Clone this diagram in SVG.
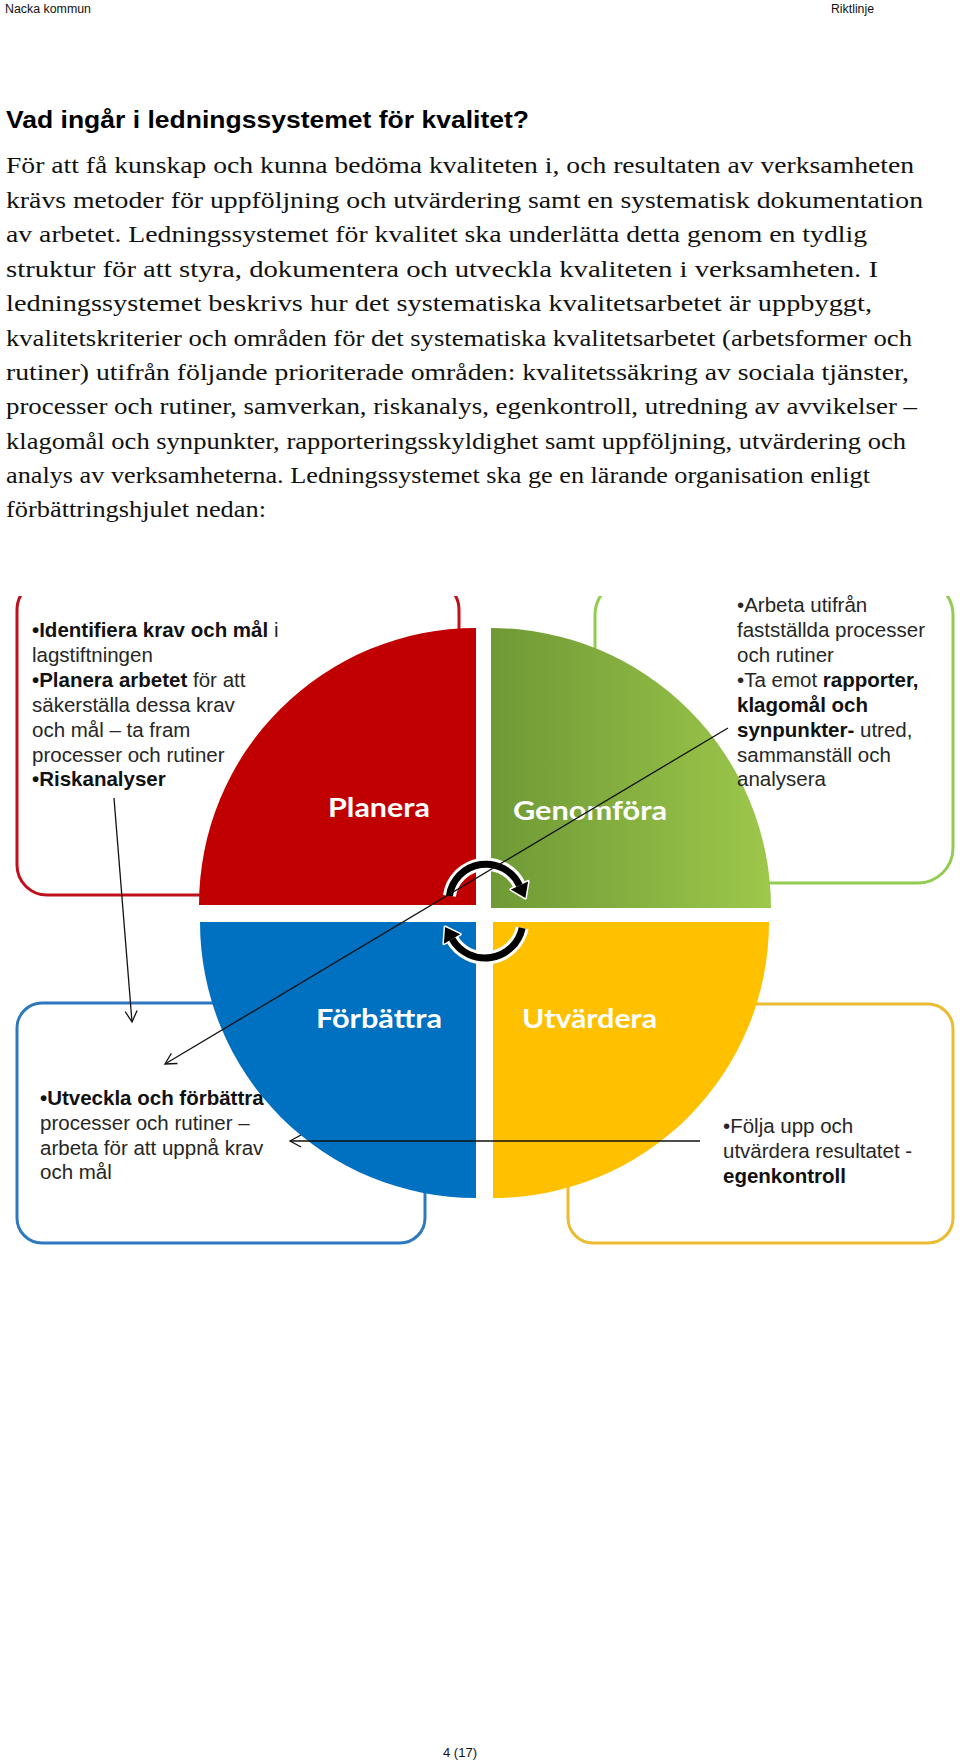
<svg xmlns="http://www.w3.org/2000/svg" width="960" height="1764" viewBox="0 0 960 1764">
<defs>
<style>
.hdr{font-family:"Liberation Sans",Arial,sans-serif;font-size:12.5px;fill:#111}
.h1{font-family:"Liberation Sans",Arial,sans-serif;font-size:24px;font-weight:bold;fill:#000}
.body{font-family:"Liberation Serif","Times New Roman",serif;font-size:24px;fill:#111}
.bt{font-family:"Liberation Sans",Arial,sans-serif;font-size:20.5px;fill:#262626}
.b{font-weight:bold;fill:#111}
.ql{font-family:Lato,"Open Sans",sans-serif;font-size:27px;font-weight:bold;fill:#fff}
.box{fill:#fff;stroke-width:3}
.conn{stroke:#111;stroke-width:1.3;fill:none}
.aw{fill:none;stroke:#fff;stroke-width:13}
.ab{fill:none;stroke:#000;stroke-width:7}
</style>
<marker id="ah" markerWidth="14" markerHeight="14" refX="12" refY="7" orient="auto" markerUnits="userSpaceOnUse"><path d="M1,1 L12,7 L1,13" fill="none" stroke="#111" stroke-width="1.3"/></marker>
<linearGradient id="gg" x1="0" y1="0" x2="1" y2="0"><stop offset="0" stop-color="#6f9935"/><stop offset="1" stop-color="#9dc84b"/></linearGradient>
<clipPath id="clipTop"><rect x="0" y="596" width="960" height="700"/></clipPath>
</defs>

<g id="header">
<text class="hdr" x="5" y="13" textLength="86" lengthAdjust="spacingAndGlyphs">Nacka kommun</text>
<text class="hdr" x="831" y="13" textLength="43" lengthAdjust="spacingAndGlyphs">Riktlinje</text>
</g>

<g id="heading">
<text class="h1" x="6" y="128" textLength="523" lengthAdjust="spacingAndGlyphs">Vad ingår i ledningssystemet för kvalitet?</text>
</g>

<g id="body-text" class="body">
<text x="6" y="173" textLength="908" lengthAdjust="spacingAndGlyphs">För att få kunskap och kunna bedöma kvaliteten i, och resultaten av verksamheten</text>
<text x="6" y="208" textLength="917" lengthAdjust="spacingAndGlyphs">krävs metoder för uppföljning och utvärdering samt en systematisk dokumentation</text>
<text x="6" y="242" textLength="861" lengthAdjust="spacingAndGlyphs">av arbetet. Ledningssystemet för kvalitet ska underlätta detta  genom en tydlig</text>
<text x="6" y="277" textLength="872" lengthAdjust="spacingAndGlyphs">struktur för att styra, dokumentera och utveckla kvaliteten i verksamheten. I</text>
<text x="6" y="311" textLength="866" lengthAdjust="spacingAndGlyphs">ledningssystemet beskrivs hur det systematiska kvalitetsarbetet är uppbyggt,</text>
<text x="6" y="346" textLength="906" lengthAdjust="spacingAndGlyphs">kvalitetskriterier och områden för det systematiska kvalitetsarbetet (arbetsformer och</text>
<text x="6" y="380" textLength="903" lengthAdjust="spacingAndGlyphs">rutiner) utifrån följande prioriterade områden: kvalitetssäkring av sociala tjänster,</text>
<text x="6" y="414" textLength="911" lengthAdjust="spacingAndGlyphs">processer och rutiner, samverkan, riskanalys, egenkontroll, utredning av avvikelser –</text>
<text x="6" y="449" textLength="900" lengthAdjust="spacingAndGlyphs">klagomål och synpunkter, rapporteringsskyldighet samt uppföljning, utvärdering och</text>
<text x="6" y="483" textLength="864" lengthAdjust="spacingAndGlyphs">analys av verksamheterna. Ledningssystemet ska ge en lärande organisation enligt</text>
<text x="6" y="517" textLength="260" lengthAdjust="spacingAndGlyphs">förbättringshjulet nedan:</text>
</g>

<g id="boxes" clip-path="url(#clipTop)">
<rect id="box-planera" class="box" x="17" y="580" width="442" height="315" rx="30" stroke="#c0101c"/>
<rect id="box-genomfora" class="box" x="595" y="580" width="358" height="303" rx="35" stroke="#92cc50"/>
<rect id="box-forbattra" class="box" x="17" y="1003" width="408" height="240" rx="25" stroke="#2e78c0"/>
<rect id="box-utvardera" class="box" x="568" y="1004" width="385" height="239" rx="25" stroke="#ecbc30"/>
</g>

<g id="wheel">
<path id="q-planera" d="M476,905 L476,628 A277,277 0 0 0 199,905 Z" fill="#c00000"/>
<path id="q-genomfora" d="M491,908 L491,628 A280,280 0 0 1 771,908 Z" fill="url(#gg)"/>
<path id="q-forbattra" d="M476,922 L200,922 A276,276 0 0 0 476,1198 Z" fill="#0070c0"/>
<path id="q-utvardera" d="M493,922 L769,922 A276,276 0 0 1 493,1198 Z" fill="#ffc000"/>
<text class="ql" x="328" y="817" textLength="102" lengthAdjust="spacingAndGlyphs">Planera</text>
<text class="ql" x="513" y="820" textLength="154" lengthAdjust="spacingAndGlyphs">Genomföra</text>
<text class="ql" x="316" y="1028" textLength="126" lengthAdjust="spacingAndGlyphs">Förbättra</text>
<text class="ql" x="522" y="1028" textLength="135" lengthAdjust="spacingAndGlyphs">Utvärdera</text>
</g>

<g id="cycle-arrows">
<path class="aw" d="M449.4,895.9 A37,37 0 0 1 519.5,885.4"/>
<path class="aw" d="M522.2,927.9 A38,38 0 0 1 452.1,939"/>
<polygon points="528.1,881.4 525.4,898.1 510.9,889.4" fill="#000" stroke="#fff" stroke-width="3" stroke-linejoin="round"/>
<polygon points="443.9,943.8 445.1,926.9 460.3,934.3" fill="#000" stroke="#fff" stroke-width="3" stroke-linejoin="round"/>
<path class="ab" d="M449.4,895.9 A37,37 0 0 1 519.5,885.4"/>
<path class="ab" d="M522.2,927.9 A38,38 0 0 1 452.1,939"/>
<polygon points="528.1,881.4 525.4,898.1 510.9,889.4" fill="#000"/>
<polygon points="443.9,943.8 445.1,926.9 460.3,934.3" fill="#000"/>
</g>

<g id="text-planera" class="bt">
<text x="32" y="637"><tspan class="b">•Identifiera krav och mål</tspan> i</text>
<text x="32" y="662">lagstiftningen</text>
<text x="32" y="687"><tspan class="b">•Planera arbetet</tspan> för att</text>
<text x="32" y="712">säkerställa  dessa krav</text>
<text x="32" y="736.5">och mål – ta fram</text>
<text x="32" y="761.5">processer och rutiner</text>
<text x="32" y="786" class="b">•Riskanalyser</text>
</g>

<g id="text-genomfora" class="bt">
<text x="737" y="612">•Arbeta utifrån</text>
<text x="737" y="637">fastställda processer</text>
<text x="737" y="662">och rutiner</text>
<text x="737" y="687">•Ta emot <tspan class="b">rapporter,</tspan></text>
<text x="737" y="712" class="b">klagomål  och</text>
<text x="737" y="737"><tspan class="b">synpunkter-</tspan> utred,</text>
<text x="737" y="762">sammanställ och</text>
<text x="737" y="786">analysera</text>
</g>

<g id="text-forbattra" class="bt">
<text x="40" y="1105" class="b">•Utveckla och förbättra</text>
<text x="40" y="1130">processer och rutiner –</text>
<text x="40" y="1155">arbeta för att uppnå krav</text>
<text x="40" y="1179">och mål</text>
</g>

<g id="text-utvardera" class="bt">
<text x="723" y="1133">•Följa upp och</text>
<text x="723" y="1158">utvärdera resultatet -</text>
<text x="723" y="1183" class="b">egenkontroll</text>
</g>

<g id="connectors">
<line class="conn" x1="114" y1="798" x2="132" y2="1022" marker-end="url(#ah)"/>
<line class="conn" x1="728" y1="728" x2="165" y2="1064" marker-end="url(#ah)"/>
<line class="conn" x1="700" y1="1141" x2="290" y2="1141" stroke="#3a3a3a" marker-end="url(#ah)"/>
</g>

<g id="footer">
<text class="hdr" x="443" y="1757" textLength="34" lengthAdjust="spacingAndGlyphs">4 (17)</text>
</g>
</svg>
